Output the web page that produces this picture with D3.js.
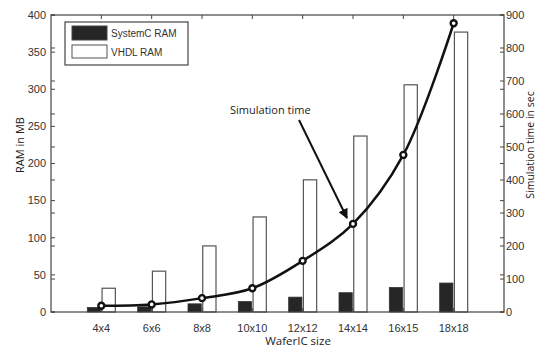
<!DOCTYPE html>
<html><head><meta charset="utf-8">
<script src="https://cdn.jsdelivr.net/npm/d3@7"></script>
<style>body{margin:0;background:#fff}svg{display:block}</style>
</head><body>
<svg id="c" width="539" height="348"></svg>
<script>
const categories = ["4x4","6x6","8x8","10x10","12x12","14x14","16x15","18x18"];
const systemcRam = [6, 7, 11, 14, 20, 26, 33, 39];
const vhdlRam = [32, 55, 89, 128, 178, 237, 306, 377];
const simTime = [19, 23, 42, 72, 155, 267, 476, 875];
const leftTicks = [0,50,100,150,200,250,300,350,400];
const rightTicks = [0,100,200,300,400,500,600,700,800,900];
const seriesNames = ["SystemC RAM","VHDL RAM"];

const svg = d3.select("#c");
const L = 51, R = 504, T = 15, B = 312;
const x = d3.scaleLinear().domain([0, 9]).range([L, R]);
const yL = d3.scaleLinear().domain([0, 400]).range([B, T]);
const yR = d3.scaleLinear().domain([0, 900]).range([B, T]);
const inner = d3.scaleBand().domain([0,1]).range([-14, 14]).paddingInner(0.1);
const ax = "#444", tc = "#333";
const tickFont = "Liberation Sans, Arial, sans-serif";
const lblFont = "Open Sans, Noto Sans, sans-serif";

// bars
const g = svg.append("g");
categories.forEach((c, i) => {
  const cx = x(i + 1);
  g.append("rect").attr("x", cx + inner(0)).attr("width", inner.bandwidth())
    .attr("y", yL(systemcRam[i])).attr("height", yL(0) - yL(systemcRam[i]))
    .attr("fill", "#262626").attr("stroke", "#333").attr("stroke-width", 0.8);
  g.append("rect").attr("x", cx + inner(1)).attr("width", inner.bandwidth())
    .attr("y", yL(vhdlRam[i])).attr("height", yL(0) - yL(vhdlRam[i]))
    .attr("fill", "#fff").attr("stroke", "#555").attr("stroke-width", 1.2);
});

// frame
svg.append("rect").attr("x", L).attr("y", T).attr("width", R - L).attr("height", B - T)
  .attr("fill", "none").attr("stroke", ax).attr("stroke-width", 1.2);

// ticks on both sides
const tl = 4;
leftTicks.forEach(v => {
  const yy = yL(v);
  svg.append("line").attr("x1", L).attr("x2", L + tl).attr("y1", yy).attr("y2", yy).attr("stroke", ax);
  svg.append("line").attr("x1", R).attr("x2", R - tl).attr("y1", yy).attr("y2", yy).attr("stroke", ax);
  svg.append("text").attr("x", L - 5).attr("y", yy).attr("dy", "0.35em").attr("text-anchor", "end")
    .attr("font-family", tickFont).attr("font-size", 11).attr("fill", tc).text(v);
});
rightTicks.forEach(v => {
  const yy = yR(v);
  svg.append("line").attr("x1", R).attr("x2", R - tl).attr("y1", yy).attr("y2", yy).attr("stroke", ax);
  svg.append("line").attr("x1", L).attr("x2", L + tl).attr("y1", yy).attr("y2", yy).attr("stroke", ax);
  svg.append("text").attr("x", R + 2).attr("y", yy).attr("dy", "0.35em").attr("text-anchor", "start")
    .attr("font-family", tickFont).attr("font-size", 11).attr("fill", tc).text(v);
});
categories.forEach((c, i) => {
  const xx = x(i + 1);
  svg.append("line").attr("x1", xx).attr("x2", xx).attr("y1", T).attr("y2", T + tl).attr("stroke", ax);
  svg.append("line").attr("x1", xx).attr("x2", xx).attr("y1", B).attr("y2", B - tl).attr("stroke", ax);
  svg.append("text").attr("x", xx).attr("y", 328).attr("dy", "0.35em").attr("text-anchor", "middle")
    .attr("font-family", tickFont).attr("font-size", 11).attr("fill", tc).text(c);
});

// line
const line = d3.line().x((d, i) => x(i + 1)).y(d => yR(d)).curve(d3.curveCatmullRom.alpha(0.5));
svg.append("path").datum(simTime).attr("d", line).attr("fill", "none")
  .attr("stroke", "#111").attr("stroke-width", 2.5);
svg.selectAll("circle.m").data(simTime).enter().append("circle")
  .attr("cx", (d, i) => x(i + 1)).attr("cy", d => yR(d)).attr("r", 3)
  .attr("fill", "#fff").attr("stroke", "#111").attr("stroke-width", 2.4);

// legend
const lg = svg.append("g");
lg.append("rect").attr("x", 65).attr("y", 22).attr("width", 123).attr("height", 43)
  .attr("fill", "#fff").attr("stroke", ax).attr("stroke-width", 1.2);
lg.append("rect").attr("x", 72).attr("y", 26).attr("width", 35).attr("height", 14).attr("fill", "#262626").attr("stroke", "#444");
lg.append("rect").attr("x", 72).attr("y", 45).attr("width", 35).attr("height", 13).attr("fill", "#fff").attr("stroke", "#555");
lg.append("text").attr("x", 111).attr("y", 33).attr("dy", "0.35em").attr("font-family", tickFont)
  .attr("font-size", 10).attr("fill", tc).text(seriesNames[0]);
lg.append("text").attr("x", 111).attr("y", 52).attr("dy", "0.35em").attr("font-family", tickFont)
  .attr("font-size", 10).attr("fill", tc).text(seriesNames[1]);

// annotation
const defs = svg.append("defs");
defs.append("marker").attr("id", "ah").attr("viewBox", "0 0 10 10").attr("refX", 9).attr("refY", 5)
  .attr("markerWidth", 5).attr("markerHeight", 5).attr("orient", "auto")
  .append("path").attr("d", "M0,0 L10,5 L0,10 z").attr("fill", "#111");
svg.append("line").attr("x1", 299).attr("y1", 120).attr("x2", 347).attr("y2", 218)
  .attr("stroke", "#111").attr("stroke-width", 2).attr("marker-end", "url(#ah)");
svg.append("text").attr("x", 230).attr("y", 110).attr("dy", "0.35em").attr("font-family", lblFont)
  .attr("font-size", 11).attr("fill", "#222").text("Simulation time");

// axis labels
svg.append("text").attr("x", 298).attr("y", 341).attr("dy", "0.35em").attr("text-anchor", "middle")
  .attr("font-family", lblFont).attr("font-size", 11.5).attr("fill", "#222").text("WaferIC size");
svg.append("text").attr("transform", "translate(20,145) rotate(-90)").attr("dy", "0.35em")
  .attr("text-anchor", "middle").attr("font-family", lblFont).attr("font-size", 11)
  .attr("fill", "#222").text("RAM in MB");
svg.append("text").attr("transform", "translate(530,145) rotate(-90)").attr("dy", "0.35em")
  .attr("text-anchor", "middle").attr("font-family", lblFont).attr("font-size", 10.5)
  .attr("fill", "#222").text("Simulation time in sec");
</script>
</body></html>
